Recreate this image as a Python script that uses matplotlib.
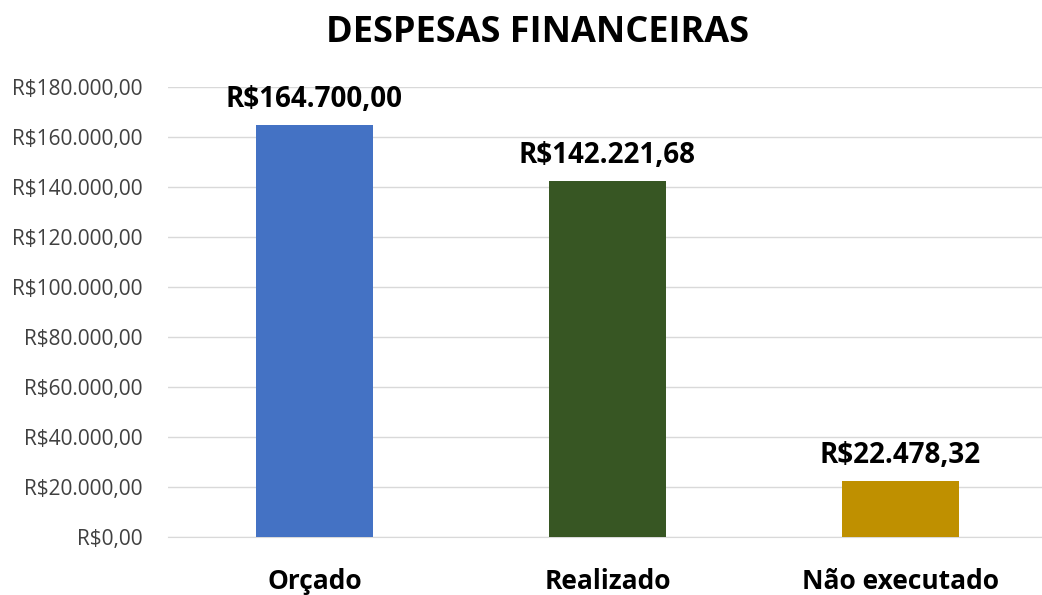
import matplotlib
matplotlib.use("Agg")
import matplotlib.pyplot as plt
from matplotlib.ticker import FuncFormatter, MultipleLocator

categories = ["Orçado", "Realizado", "Não executado"]
values = [164700.00, 142221.68, 22478.32]
colors = ["#4472C4", "#375623", "#BF9000"]


def brl(v, decimals=2):
    s = f"{v:,.{decimals}f}"
    s = s.replace(",", "X").replace(".", ",").replace("X", ".")
    return "R$" + s


plt.rcParams["font.family"] = ["Open Sans", "DejaVu Sans"]

fig = plt.figure(figsize=(10.42, 5.95), dpi=100)
ax = fig.add_axes([168 / 1042, 58 / 595, 874 / 1042, 450 / 595])

x = range(len(categories))
bars = ax.bar(x, values, width=0.40, color=colors, zorder=3)

for b, v in zip(bars, values):
    ax.annotate(brl(v), (b.get_x() + b.get_width() / 2, v),
                xytext=(0, 8), textcoords="offset points",
                ha="center", va="bottom", fontsize=20, fontweight="bold")

ax.set_xlim(-0.5, 2.483)
ax.set_ylim(0, 180000)
ax.yaxis.set_major_locator(MultipleLocator(20000))
ax.yaxis.set_major_formatter(FuncFormatter(lambda v, p: brl(v)))
ax.grid(axis="y", color="#D9D9D9", linewidth=1, zorder=0)

ax.set_xticks(list(x))
ax.set_xticklabels(categories, fontsize=19, fontweight="bold")
ax.tick_params(axis="x", length=0, pad=22)
ax.tick_params(axis="y", length=0, labelsize=15, pad=18, labelcolor="#404040")

for s in ["top", "right", "left"]:
    ax.spines[s].set_visible(False)
ax.spines["bottom"].set_color("#D9D9D9")

fig.suptitle("DESPESAS FINANCEIRAS", fontsize=26, fontweight="bold",
             x=537 / 1042, y=0.975, va="top")

fig.savefig("out.png", dpi=100)
